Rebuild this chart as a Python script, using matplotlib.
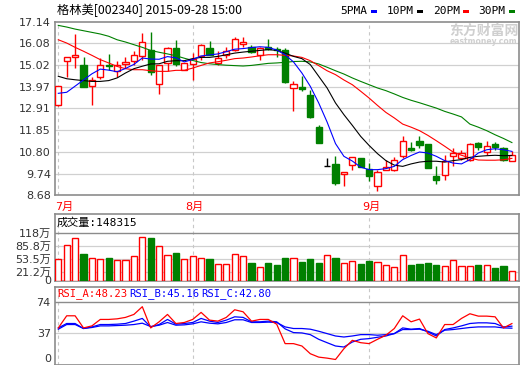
import matplotlib
matplotlib.use('Agg')
import matplotlib.pyplot as plt
from matplotlib.patches import Rectangle
import numpy as np

plt.rcParams['font.family'] = ['DejaVu Sans', 'Noto Sans CJK SC']

# ---------------- data ----------------
month_labels = ['7月', '8月', '9月']
month_start_idx = [0, 16, 37]

opens = [13.06, 15.21, 15.40, 15.03, 13.99, 14.43, 15.03, 14.75, 15.06, 15.24,
         15.45, 15.78, 14.10, 15.15, 15.86, 14.80, 15.08, 15.45, 15.86, 15.14,
         15.53, 15.78, 16.07, 15.89, 15.50, 15.89, 15.83, 15.78, 13.91, 13.94,
         13.55, 11.99, 10.11, 10.21, 9.70, 10.14, 10.50, 9.98, 9.12, 9.93,
         9.93, 10.58, 10.98, 11.31, 11.18, 9.60, 9.65, 10.58, 10.50, 10.42,
         11.23, 10.79, 11.18, 10.98, 10.34]
highs = [14.00, 15.40, 16.54, 15.40, 14.43, 15.37, 15.57, 15.24, 15.40, 15.70,
         16.59, 16.62, 15.05, 15.92, 16.26, 15.15, 15.61, 16.05, 16.18, 15.70,
         15.89, 16.39, 16.39, 16.02, 15.90, 16.30, 15.90, 15.86, 14.27, 14.48,
         13.83, 12.12, 10.50, 10.58, 9.82, 10.53, 10.50, 10.25, 9.93, 10.42,
         10.53, 11.55, 11.28, 11.55, 11.18, 10.09, 10.66, 10.98, 10.90, 11.23,
         11.28, 11.34, 11.28, 11.02, 10.82]
lows = [13.05, 14.46, 14.88, 13.94, 13.10, 14.33, 14.80, 14.46, 14.88, 15.05,
        15.29, 14.53, 13.63, 14.75, 15.00, 14.78, 14.32, 15.29, 15.53, 15.03,
        15.37, 15.70, 15.89, 15.62, 15.29, 15.75, 15.41, 14.15, 12.80, 13.78,
        12.45, 11.23, 10.11, 9.20, 9.12, 9.93, 10.04, 9.36, 8.91, 9.93,
        9.85, 10.50, 10.82, 10.98, 10.01, 9.23, 9.44, 10.09, 10.42, 10.37,
        10.90, 10.66, 10.90, 10.37, 10.34]
closes = [13.99, 15.40, 15.50, 13.97, 14.30, 15.01, 14.98, 15.01, 15.18, 15.50,
          16.13, 14.69, 15.01, 15.88, 15.08, 15.13, 15.34, 15.99, 15.53, 15.35,
          15.70, 16.30, 16.15, 15.65, 15.86, 15.81, 15.78, 14.19, 14.10, 13.88,
          12.51, 11.23, 10.11, 9.28, 9.82, 10.53, 10.04, 9.60, 9.82, 10.04,
          10.42, 11.31, 10.90, 11.12, 10.01, 9.41, 10.34, 10.74, 10.74, 11.18,
          11.02, 11.07, 11.02, 10.42, 10.66]

ma5 = [13.65, 13.70, 14.00, 14.30, 14.60, 14.83, 14.78, 14.70, 14.86, 15.06,
       15.37, 15.32, 15.31, 15.44, 15.38, 15.18, 15.30, 15.47, 15.52, 15.57,
       15.68, 15.80, 15.83, 15.88, 15.92, 15.89, 15.76, 15.53, 15.18, 14.64,
       13.99, 13.18, 12.25, 11.20, 10.58, 10.35, 10.05, 9.93, 9.93, 9.98,
       10.09, 10.42, 10.62, 10.79, 10.74, 10.58, 10.37, 10.25, 10.21, 10.42,
       10.74, 10.90, 10.95, 10.90, 10.82]
ma10 = [14.48, 14.36, 14.31, 14.27, 14.23, 14.23, 14.27, 14.40, 14.64, 14.85,
        14.97, 15.08, 15.09, 15.21, 15.24, 15.24, 15.34, 15.40, 15.40, 15.45,
        15.53, 15.61, 15.66, 15.70, 15.74, 15.78, 15.74, 15.61, 15.45, 15.34,
        15.05, 14.48, 13.91, 13.18, 12.61, 12.09, 11.55, 11.11, 10.71, 10.37,
        10.15, 10.09, 10.21, 10.30, 10.34, 10.34, 10.30, 10.37, 10.42, 10.53,
        10.58, 10.61, 10.63, 10.61, 10.62]
ma20 = [16.26, 16.10, 15.89, 15.70, 15.50, 15.29, 15.13, 14.96, 14.85, 14.80,
        14.80, 14.75, 14.72, 14.72, 14.77, 14.77, 14.88, 15.01, 15.13, 15.19,
        15.26, 15.34, 15.37, 15.42, 15.48, 15.53, 15.53, 15.50, 15.47, 15.40,
        15.24, 15.00, 14.75, 14.56, 14.30, 14.07, 13.75, 13.42, 13.06, 12.72,
        12.45, 12.15, 12.00, 11.83, 11.60, 11.34, 11.07, 10.79, 10.63, 10.50,
        10.40, 10.39, 10.39, 10.41, 10.48]
ma30 = [16.96, 16.88, 16.78, 16.70, 16.62, 16.54, 16.43, 16.26, 16.15, 16.02,
        15.89, 15.74, 15.65, 15.57, 15.48, 15.36, 15.25, 15.15, 15.09, 15.05,
        15.02, 15.00, 14.98, 15.01, 15.06, 15.11, 15.13, 15.16, 15.20, 15.21,
        15.18, 15.08, 14.92, 14.75, 14.59, 14.40, 14.23, 14.07, 13.91, 13.78,
        13.62, 13.45, 13.31, 13.19, 13.06, 12.93, 12.77, 12.64, 12.50, 12.15,
        12.00, 11.83, 11.63, 11.45, 11.25]

volume_wan = [54.1, 87.3, 104.0, 66.5, 56.6, 54.1, 56.6, 49.9, 49.9, 59.9,
              106.5, 104.0, 84.8, 62.4, 69.1, 54.1, 59.9, 56.6, 54.1, 39.9,
              41.6, 66.5, 59.9, 44.1, 33.2, 43.2, 37.4, 55.7, 56.6, 44.9,
              52.4, 42.4, 62.4, 56.6, 44.1, 49.1, 39.9, 47.4, 46.6, 39.1,
              34.1, 64.1, 37.4, 39.9, 44.1, 37.4, 36.6, 51.6, 36.6, 36.6,
              37.4, 39.1, 31.6, 34.9, 24.2]

rsi_a = [43.1, 57.4, 57.4, 43.1, 45.5, 53.1, 53.1, 53.8, 55.5, 59.0,
         68.1, 43.1, 50.3, 59.0, 48.3, 49.5, 53.1, 61.4, 52.3, 51.1,
         55.5, 64.5, 62.1, 51.1, 53.1, 53.1, 47.5, 24.6, 24.6, 21.8,
         12.7, 8.7, 7.5, 5.9, 18.6, 28.5, 25.7, 24.6, 29.7, 34.5,
         42.4, 57.4, 50.3, 53.5, 36.4, 31.3, 47.1, 47.1, 54.3, 59.8,
         57.0, 57.0, 56.2, 43.1, 48.23]
rsi_b = [43.1, 48.3, 48.3, 42.4, 44.3, 47.1, 47.1, 47.5, 48.3, 51.1,
         54.3, 44.3, 47.1, 53.1, 47.5, 48.3, 49.5, 54.3, 51.1, 49.5,
         52.3, 56.2, 55.5, 50.3, 50.3, 51.1, 50.3, 42.0, 37.6, 37.2,
         35.2, 29.7, 25.7, 21.8, 20.6, 26.5, 29.7, 30.5, 32.1, 33.6,
         36.4, 43.1, 41.6, 42.4, 38.4, 33.6, 41.2, 43.1, 45.5, 48.3,
         49.1, 49.1, 48.3, 44.3, 45.16]
rsi_c = [41.6, 47.1, 47.1, 42.4, 43.6, 45.5, 45.5, 45.9, 46.3, 47.1,
         48.7, 44.7, 46.3, 49.5, 46.3, 46.7, 47.9, 50.3, 48.7, 47.9,
         49.5, 52.7, 52.7, 49.5, 49.5, 49.9, 49.5, 44.3, 42.4, 42.4,
         41.6, 39.2, 36.4, 33.6, 32.4, 33.6, 35.2, 35.2, 34.5, 35.2,
         36.4, 41.2, 41.2, 41.6, 39.2, 35.2, 40.4, 41.2, 42.4, 43.6,
         44.3, 44.3, 44.3, 43.1, 42.80]

price_ticks = [8.68, 9.74, 10.80, 11.85, 12.91, 13.97, 15.02, 16.08, 17.14]
vol_ticks = [0, 21.2, 53.5, 85.8, 118]
vol_tick_labels = ['0', '21.2万', '53.5万', '85.8万', '118万']
rsi_ticks = [0, 37, 74]

title = '格林美[002340] 2015-09-28 15:00'
last_volume = '148315'

# ---------------- style ----------------
W, H = 520, 365
RED = '#ff0000'
GREEN = '#008000'
BLUE = '#0000ff'
GRID = '#d0d0d0'
BORDER = '#8c8c8c'
DASH = '#c8c8c8'
TXT = '#333333'

fig = plt.figure(figsize=(W / 100, H / 100), dpi=100)
fig.patch.set_facecolor('white')


def ax_px(x0, y0, x1, y1):
    return fig.add_axes([x0 / W, 1 - y1 / H, (x1 - x0) / W, (y1 - y0) / H])


def ftext(x, y, s, **kw):
    return fig.text(x / W, 1 - y / H, s, **kw)


n = len(closes)
xs = np.arange(n)
step = 8.4
x0_px = 58.3
XL, XR = 55, 519
xlim = ((XL - x0_px) / step, (XR - x0_px) / step)


def style_axes(ax):
    ax.set_xlim(*xlim)
    ax.set_xticks([])
    for s in ax.spines.values():
        s.set_color(BORDER)
        s.set_linewidth(1.2)
    ax.tick_params(axis='y', length=0, pad=3, labelsize=8, labelcolor=TXT)
    for m in month_start_idx:
        ax.axvline(m, color=DASH, lw=0.8, ls=(0, (3, 3)), zorder=0.5)


# ---------------- main price panel ----------------
ax = ax_px(XL, 21.7, XR, 195.3)
style_axes(ax)
ax.set_ylim(price_ticks[0], price_ticks[-1])
ax.set_yticks(price_ticks)
ax.set_yticklabels(['%.2f' % v for v in price_ticks])
for v in price_ticks[1:-1]:
    ax.axhline(v, color=GRID, lw=0.9, zorder=0.4)

o = np.array(opens); h = np.array(highs); l = np.array(lows); c = np.array(closes)
for i in range(n):
    if c[i] > o[i]:
        col, face = RED, 'white'
    elif c[i] < o[i]:
        col, face = GREEN, GREEN
    else:
        col, face = 'black', 'black'
    ax.vlines(xs[i], l[i], h[i], color=col, lw=1.0, zorder=2)
    if c[i] == o[i]:
        ax.hlines(o[i], xs[i] - 0.36, xs[i] + 0.36, color=col, lw=1.0, zorder=3)
    else:
        ax.bar(xs[i], abs(c[i] - o[i]), bottom=min(o[i], c[i]), width=0.72,
               facecolor=face, edgecolor=col, lw=1.0, zorder=3)

ax.plot(xs, ma30, color=GREEN, lw=0.8, zorder=4)
ax.plot(xs, ma20, color=RED, lw=0.8, zorder=4)
ax.plot(xs, ma10, color='black', lw=0.8, zorder=4)
ax.plot(xs, ma5, color=BLUE, lw=0.8, zorder=4)

# title and legend
ftext(57, 10, title, family=['Noto Sans CJK SC', 'DejaVu Sans'], fontsize=8.8,
      ha='left', va='center', color='black')
leg = [('5PMA', 340, 371, BLUE), ('10PM', 387, 417, 'black'),
       ('20PM', 433, 463, RED), ('30PM', 478, 509, GREEN)]
for lab, tx, rx, colr in leg:
    ftext(tx, 10.5, lab, family='DejaVu Sans Mono', fontsize=8,
          ha='left', va='center', color='black')
    fig.patches.append(Rectangle((rx / W, 1 - 12.7 / H), 6 / W, 3 / H,
                                 transform=fig.transFigure, facecolor=colr,
                                 edgecolor='none'))

# watermark
ftext(484, 31, '东方财富网', family=['Noto Sans CJK SC'], fontsize=10,
      fontweight='bold', color='#cfcfcf', ha='center', va='center', zorder=0)
ftext(483, 41.5, 'eastmoney.com', family='DejaVu Sans', fontsize=5.5,
      fontweight='bold', color='#cfcfcf', ha='center', va='center', zorder=0)

# month labels
for lab, m in zip(month_labels, month_start_idx):
    px = x0_px + m * step
    if m == 0:
        ftext(55, 206.5, lab, fontsize=8, color=RED, ha='left', va='center')
    else:
        ftext(px + 2, 206.5, lab, fontsize=8, color=RED, ha='center', va='center')

# ---------------- volume panel ----------------
VT, VB = 214, 280.5
v_scale = 118 / (VB - 232.7)
axv = ax_px(XL, VT, XR, VB)
style_axes(axv)
axv.set_ylim(0, 118 + (232.7 - VT) * v_scale)
axv.set_yticks(vol_ticks)
axv.set_yticklabels(vol_tick_labels)
for v in vol_ticks[1:-1]:
    axv.axhline(v, color=GRID, lw=0.9, zorder=0.4)
axv.axhline(118, color=BORDER, lw=1.0, zorder=0.6)
vol = np.array(volume_wan)
up = c >= o
axv.bar(xs, vol, width=0.72, facecolor=np.where(up, 'white', GREEN),
        edgecolor=np.where(up, RED, GREEN), lw=1.0, zorder=3)
ftext(57, 222.5, '成交量:' + last_volume,
      family=['DejaVu Sans Mono', 'Noto Sans CJK SC'], fontsize=8,
      ha='left', va='center', color='black')

# ---------------- RSI panel ----------------
RT, RB = 287, 364.5
r_scale = 74 / (RB - 301.7)
axr = ax_px(XL, RT, XR, RB)
style_axes(axr)
axr.set_ylim(0, 74 + (301.7 - RT) * r_scale)
axr.set_yticks(rsi_ticks)
axr.set_yticklabels([str(v) for v in rsi_ticks])
# keep the bottom "0" label inside the picture
axr.get_yticklabels()[0].set_verticalalignment('bottom')
axr.axhline(37, color=GRID, lw=0.9, zorder=0.4)
axr.axhline(74, color=BORDER, lw=1.0, zorder=0.6)
axr.plot(xs, rsi_c, color=BLUE, lw=0.9, zorder=3)
axr.plot(xs, rsi_b, color=BLUE, lw=0.9, zorder=3)
axr.plot(xs, rsi_a, color=RED, lw=0.9, zorder=4)
for lab, val, tx, colr in [('RSI_A', rsi_a[-1], 57, RED),
                           ('RSI_B', rsi_b[-1], 129, BLUE),
                           ('RSI_C', rsi_c[-1], 201, BLUE)]:
    ftext(tx, 294, '%s:%.2f' % (lab, val), family='DejaVu Sans Mono',
          fontsize=7.6, ha='left', va='center', color=colr)

fig.savefig('out.png', dpi=100)
